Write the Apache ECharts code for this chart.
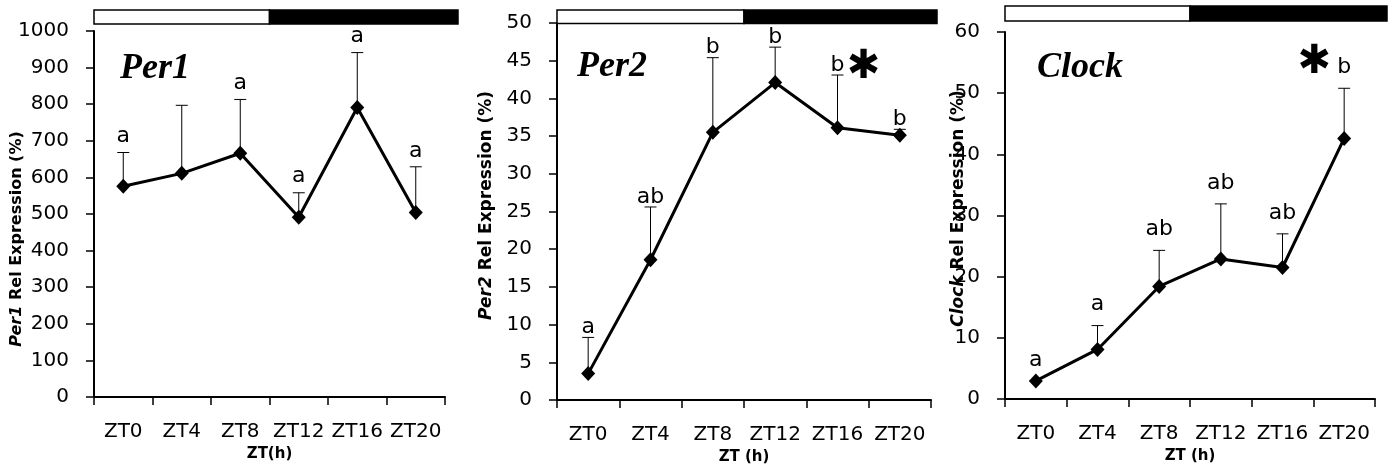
<!DOCTYPE html>
<html>
<head>
<meta charset="utf-8">
<script src="https://cdn.jsdelivr.net/npm/echarts@6/dist/echarts.min.js"></script>
<style>
html, body { margin: 0; padding: 0; background: #fff; }
#main { width: 1395px; height: 466px; }
</style>
</head>
<body>
<div id="main"></div>
<script>
// categories
var hours = ['ZT0', 'ZT4', 'ZT8', 'ZT12', 'ZT16', 'ZT20'];

// Per1 : mean and top of error bar
var per1Mean = [576, 611, 666, 491, 791, 504];
var per1ErrTop = [668, 797, 813, 558, 941, 629];
var per1Letters = ['a', '', 'a', 'a', 'a', 'a'];
var per1Star = ['', '', '', '', '', ''];

// Per2
var per2Mean = [3.5, 18.6, 35.5, 42.1, 36.1, 35.1];
var per2ErrTop = [8.3, 25.6, 45.4, 46.8, 43.1, 35.9];
var per2Letters = ['a', 'ab', 'b', 'b', 'b', 'b'];
var per2Star = ['', '', '', '', '✱', ''];

// Clock
var clockMean = [2.95, 8.1, 18.4, 22.9, 21.5, 42.6];
var clockErrTop = [2.95, 12.0, 24.3, 31.9, 27.0, 50.8];
var clockLetters = ['a', 'a', 'ab', 'ab', 'ab', 'b'];
var clockStar = ['', '', '', '', '', '✱'];

// y axis ticks: min, max, step
var per1Ticks = [0, 1000, 100];
var per2Ticks = [0, 50, 5];
var clockTicks = [0, 60, 10];

// light / dark phases (first and last category of each)
var phaseFirst = [0, 3];
var phaseLast = [2, 5];
var phaseFill = ['#ffffff', '#000000'];

var FONT = 'DejaVu Sans';

var panels = [
  { gene: 'Per1', mean: per1Mean, top: per1ErrTop, letters: per1Letters, star: per1Star, ticks: per1Ticks,
    grid: { left: 94, top: 31, width: 351, height: 366 }, xName: 'ZT(h)', xNameGap: 48,
    nameGap: 69, nameSize: 16, namePad: [0, 50, 0, 0],
    titleLeft: 120, titleTop: 51, barY: -21, barH: 14, overhang: 13,
    letterGap: 5, starDx: 0, starDy: 0 },
  { gene: 'Per2', mean: per2Mean, top: per2ErrTop, letters: per2Letters, star: per2Star, ticks: per2Ticks,
    grid: { left: 557, top: 23, width: 374, height: 377 }, xName: 'ZT (h)', xNameGap: 39,
    nameGap: 62, nameSize: 17, namePad: [0, 0, 0, 12],
    titleLeft: 577, titleTop: 49, barY: -13, barH: 13.5, overhang: 6,
    letterGap: -1, starDx: 26, starDy: -7 },
  { gene: 'Clock', mean: clockMean, top: clockErrTop, letters: clockLetters, star: clockStar, ticks: clockTicks,
    grid: { left: 1005, top: 32, width: 370, height: 367 }, xName: 'ZT (h)', xNameGap: 45,
    nameGap: 38, nameSize: 17, namePad: [0, 0, 0, 14],
    titleLeft: 1037, titleTop: 50, barY: -26, barH: 15, overhang: 12,
    letterGap: 10, starDx: -30, starDy: -26 }
];

function errorRenderer(p) {
  return function (params, api) {
    var i = params.dataIndex;
    var a = api.coord([api.value(0), api.value(1)]);
    var b = api.coord([api.value(0), api.value(2)]);
    var kids = [
      { type: 'line', shape: { x1: a[0], y1: a[1], x2: b[0], y2: b[1] }, style: { stroke: '#000', lineWidth: 1 } },
      { type: 'line', shape: { x1: b[0] - 6, y1: b[1], x2: b[0] + 6, y2: b[1] }, style: { stroke: '#000', lineWidth: 1 } }
    ];
    if (p.letters[i]) {
      kids.push({ type: 'text', x: b[0], y: b[1] - p.letterGap,
        style: { text: p.letters[i], fontFamily: FONT, fontSize: 22, fill: '#000', align: 'center', verticalAlign: 'bottom' } });
    }
    if (p.star[i]) {
      kids.push({ type: 'text', x: b[0] + p.starDx, y: b[1] + p.starDy,
        style: { text: p.star[i], fontFamily: FONT, fontSize: 40, fontWeight: 'bold', fill: '#000', align: 'center', verticalAlign: 'middle' } });
    }
    return { type: 'group', children: kids };
  };
}

function phaseRenderer(p) {
  return function (params, api) {
    var i = params.dataIndex;
    var band = api.size([1, 0])[0];
    var ymax = p.ticks[1];
    var s = api.coord([api.value(0), ymax]);
    var e = api.coord([api.value(1), ymax]);
    var x0 = s[0] - band / 2;
    var x1 = e[0] + band / 2 + (i === phaseFirst.length - 1 ? p.overhang : 0);
    return {
      type: 'rect',
      shape: { x: x0, y: s[1] + p.barY, width: x1 - x0, height: p.barH },
      style: { fill: phaseFill[i], stroke: '#000', lineWidth: 1.5 }
    };
  };
}

var option = {
  animation: false,
  backgroundColor: '#fff',
  textStyle: { fontFamily: FONT, color: '#000' },
  title: [], grid: [], xAxis: [], yAxis: [], series: []
};

panels.forEach(function (p, k) {
  option.title.push({
    text: p.gene, left: p.titleLeft, top: p.titleTop, padding: 0,
    textStyle: { fontFamily: 'Liberation Serif', fontStyle: 'italic', fontWeight: 'bold', fontSize: 36, color: '#000' }
  });
  option.grid.push({ left: p.grid.left, top: p.grid.top, width: p.grid.width, height: p.grid.height,
    containLabel: false, outerBoundsMode: 'none' });
  option.xAxis.push({
    type: 'category', gridIndex: k, data: hours, boundaryGap: true,
    name: p.xName, nameLocation: 'middle', nameGap: p.xNameGap,
    nameTextStyle: { fontFamily: FONT, fontWeight: 'bold', fontSize: 15, color: '#000' },
    axisLine: { lineStyle: { color: '#000', width: 2 } },
    axisTick: { show: true, length: 8, alignWithLabel: false, interval: 0, lineStyle: { color: '#000', width: 1.5 } },
    axisLabel: { interval: 0, margin: 25, fontFamily: FONT, fontSize: 20, color: '#000' },
    splitLine: { show: false }
  });
  option.yAxis.push({
    type: 'value', gridIndex: k, min: p.ticks[0], max: p.ticks[1], interval: p.ticks[2],
    name: '{g|' + p.gene + '} Rel Expression (%)', nameLocation: 'middle', nameGap: p.nameGap,
    nameRotate: 90, nameMoveOverlap: false,
    nameTextStyle: { fontFamily: FONT, fontWeight: 'bold', fontSize: p.nameSize, color: '#000', padding: p.namePad,
      rich: { g: { fontFamily: FONT, fontStyle: 'italic', fontWeight: 'bold', fontSize: p.nameSize, color: '#000' } } },
    axisLine: { show: true, lineStyle: { color: '#000', width: 2 } },
    axisTick: { show: true, length: 8, lineStyle: { color: '#000', width: 1.5 } },
    axisLabel: { margin: 25, fontFamily: FONT, fontSize: 20, color: '#000',
      formatter: function (value) { return String(value); } },
    splitLine: { show: false }
  });
  option.series.push({
    type: 'custom', xAxisIndex: k, yAxisIndex: k, clip: false, z: 1, silent: true,
    renderItem: phaseRenderer(p),
    data: phaseFirst.map(function (f, j) { return [f, phaseLast[j]]; })
  });
  option.series.push({
    type: 'custom', xAxisIndex: k, yAxisIndex: k, clip: false, z: 2, silent: true,
    renderItem: errorRenderer(p),
    data: p.mean.map(function (m, j) { return [j, m, p.top[j]]; })
  });
  option.series.push({
    type: 'line', xAxisIndex: k, yAxisIndex: k, z: 3,
    data: p.mean, symbol: 'diamond', symbolSize: [14, 15],
    itemStyle: { color: '#000' }, lineStyle: { color: '#000', width: 3 }
  });
});

var chart = echarts.init(document.getElementById('main'));
chart.setOption(option);
</script>
</body>
</html>
